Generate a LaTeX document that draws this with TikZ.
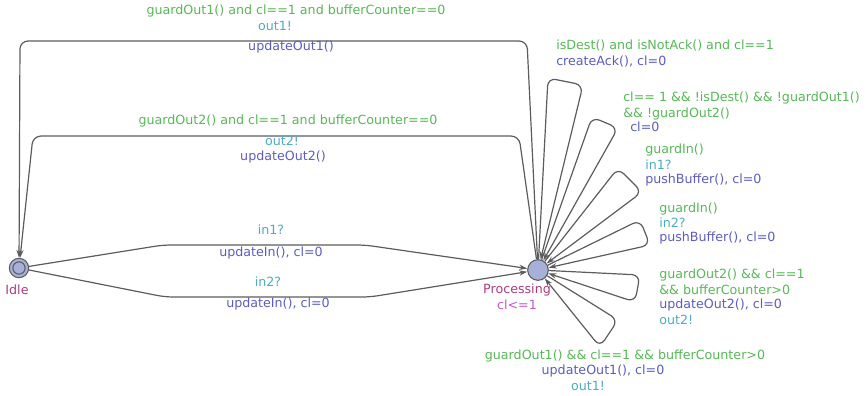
\documentclass[tikz,border=0pt]{standalone}
\usepackage{fontspec}
\setmainfont{DejaVu Sans}
\usetikzlibrary{arrows.meta}

\definecolor{guardc}{RGB}{86,184,86}
\definecolor{syncc}{RGB}{78,172,192}
\definecolor{updc}{RGB}{92,92,192}
\definecolor{namec}{RGB}{168,62,128}
\definecolor{invc}{RGB}{190,90,200}
\definecolor{locc}{RGB}{166,176,216}
\definecolor{edgec}{RGB}{92,92,92}

\begin{document}
\begin{tikzpicture}[x=0.75pt,y=0.75pt,yscale=-1,xscale=1,
  every node/.style={font=\fontsize{9.5}{11}\selectfont, inner sep=0pt},
  loc/.style={circle, draw=edgec, fill=locc, line width=0.8pt, minimum size=14.5pt},
  edge/.style={draw=edgec, line width=0.9pt, rounded corners=6pt, -{Stealth[length=6pt,width=4pt]}},
  guard/.style={text=guardc}, sync/.style={text=syncc}, upd/.style={text=updc}]
\useasboundingbox (0,0) rectangle (867,396);

%Locations
\node [loc] (idle) at (19,268) {};
\draw [edgec, line width=0.8pt] (idle) circle (4.6pt);
\node [loc, minimum size=15.5pt] (proc) at (538,270) {};
\node [text=namec] (idlename) at (17,290) {Idle};
\node [text=namec] (procname) at (517,290) {Processing};
\node [text=invc] (procinv) at (517,305) {cl<=1};

%Nails
\coordinate (o1a) at (527,41);  \coordinate (o1b) at (20,41);
\coordinate (o2a) at (519,136); \coordinate (o2b) at (33,136);
\coordinate (i1a) at (163,245); \coordinate (i1b) at (365,245);
\coordinate (i2a) at (165,297); \coordinate (i2b) at (370,297);
\coordinate (l1a) at (548,78);  \coordinate (l1b) at (583,85);
\coordinate (l2a) at (592,117); \coordinate (l2b) at (618,128);
\coordinate (l3a) at (618,168); \coordinate (l3b) at (642,192);
\coordinate (l4a) at (640,220); \coordinate (l4b) at (650,245);
\coordinate (l5a) at (640,275); \coordinate (l5b) at (635,302);
\coordinate (l6a) at (618,320); \coordinate (l6b) at (600,347);

%Edges
\draw [edge] (proc) -- (o1a) -- (o1b) -- (idle);
\draw [edge] (proc) -- (o2a) -- (o2b) -- (idle);
\draw [edge] (idle) -- (i1a) -- (i1b) -- (proc);
\draw [edge] (idle) -- (i2a) -- (i2b) -- (proc);
\foreach \l in {l1,l2,l3,l4,l5,l6}
  \draw [edge] (proc) -- (\l a) -- (\l b) -- (proc);

% Text Node
\node [guard] (g1) at (296,11) {guardOut1() and cl==1 and bufferCounter==0};
\node [sync] (s1) at (275,26) {out1!};
\node [upd] (u1) at (291,47) {updateOut1()};
% Text Node
\node [guard] (g2) at (288,121) {guardOut2() and cl==1 and bufferCounter==0};
\node [sync] (s2) at (282,141) {out2!};
\node [upd] (u2) at (283,157) {updateOut2()};
% Text Node
\node [sync] (s3) at (271,230) {in1?};
\node [upd] (u3) at (271,253) {updateIn(), cl=0};
\node [sync] (s4) at (268,282) {in2?};
\node [upd] (u4) at (278,304) {updateIn(), cl=0};
% Text Node
\node [guard, anchor=west] (g5) at (556,46) {isDest() and isNotAck() and cl==1};
\node [upd, anchor=west] (u5) at (556,62) {createAck(), cl=0};
% Text Node
\node [guard, anchor=west] (g6) at (623,98) {cl== 1 \&\& !isDest() \&\& !guardOut1()};
\node [guard, anchor=west] (g6b) at (623,114) {\&\& !guardOut2()};
\node [upd, anchor=west] (u6) at (630,127) {cl=0};
% Text Node
\node [guard, anchor=west] (g7) at (645,150) {guardIn()};
\node [sync, anchor=west] (s7) at (645,165) {in1?};
\node [upd, anchor=west] (u7) at (645,180) {pushBuffer(), cl=0};
% Text Node
\node [guard, anchor=west] (g8) at (659,209) {guardIn()};
\node [sync, anchor=west] (s8) at (659,223) {in2?};
\node [upd, anchor=west] (u8) at (659,238) {pushBuffer(), cl=0};
% Text Node
\node [guard, anchor=west] (g9) at (659,275) {guardOut2() \&\& cl==1};
\node [guard, anchor=west] (g9b) at (659,290) {\&\& bufferCounter>0};
\node [upd, anchor=west] (u9) at (659,305) {updateOut2(), cl=0};
\node [sync, anchor=west] (s9) at (659,320) {out2!};
% Text Node
\node [guard] (g10) at (625,356) {guardOut1() \&\& cl==1 \&\& bufferCounter>0};
\node [upd] (u10) at (603,371) {updateOut1(), cl=0};
\node [sync] (s10) at (588,386) {out1!};

\end{tikzpicture}
\end{document}
